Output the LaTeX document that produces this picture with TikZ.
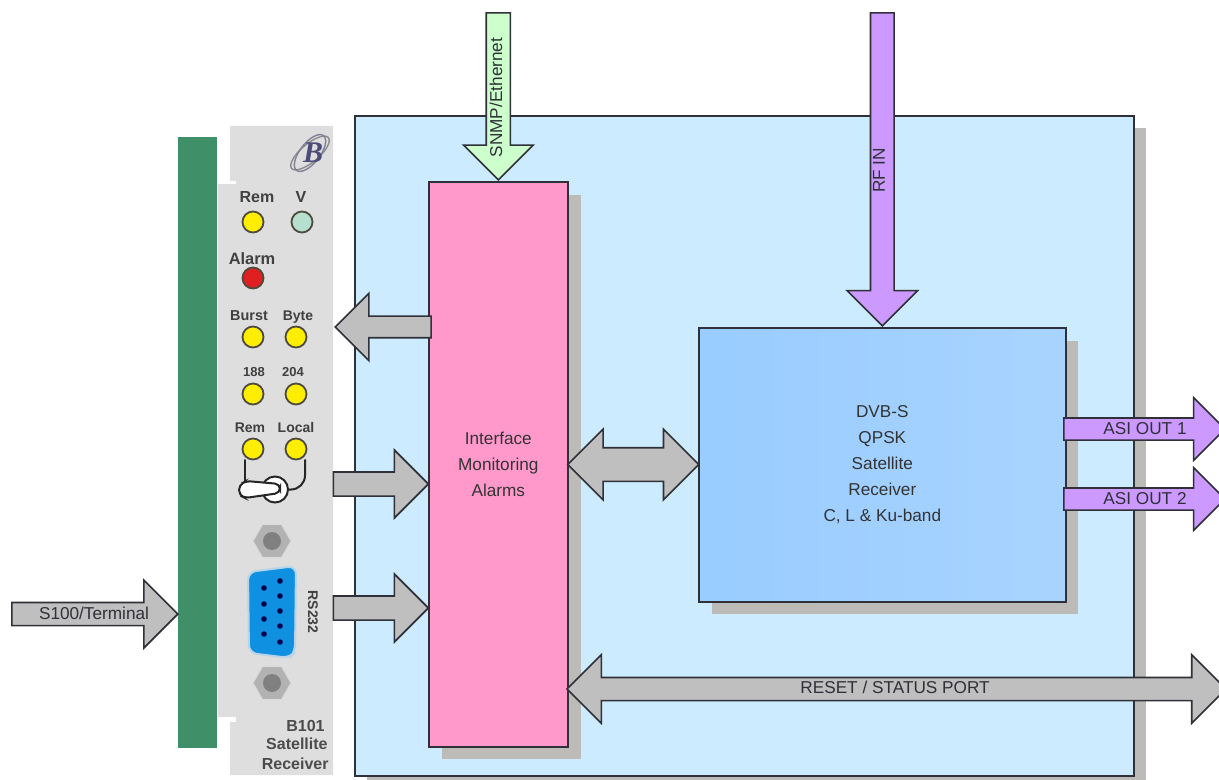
\documentclass[tikz,border=0pt]{standalone}
\usepackage{fontspec}
\setmainfont{Liberation Sans}
\newfontfamily\logofont{Liberation Serif}
\usetikzlibrary{positioning, calc, shapes.arrows, shapes.geometric}

\definecolor{lineclr}{HTML}{2F3038}
\definecolor{shadowclr}{HTML}{BDBBB8}
\definecolor{boxclr}{HTML}{CCEBFF}
\definecolor{pinkclr}{HTML}{FF99CC}
\definecolor{rxclr}{HTML}{99CCFF}
\definecolor{panelclr}{HTML}{DEDEDE}
\definecolor{barclr}{HTML}{3F8F68}
\definecolor{purpleclr}{HTML}{CC99FF}
\definecolor{greenclr}{HTML}{CCFFCC}
\definecolor{greyclr}{HTML}{BFBFBF}
\definecolor{ledyellow}{HTML}{FFEE00}
\definecolor{ledred}{HTML}{E02020}
\definecolor{ledmint}{HTML}{B5E0D0}
\definecolor{dbclr}{HTML}{1090E0}
\definecolor{dbedge}{HTML}{B8D4E8}

\tikzset{
  block/.style={draw=lineclr, line width=0.8pt, inner sep=0pt, text=black!80, font=\fontsize{8.6}{13}\selectfont, align=center},
  shade/.style={fill=shadowclr, draw=none},
  % shaft width and head width are given in units of the picture
  blockarrow/.style 2 args={single arrow, draw=lineclr, line width=0.8pt, text height=0pt, text depth=0pt, inner xsep=0pt, inner ysep=#1*0.25pt, single arrow head extend=(#2-#1)*0.25pt, single arrow head indent=0pt},
  downarrow/.style 2 args={single arrow, shape border rotate=270, draw=lineclr, line width=0.8pt, text height=0pt, text depth=0pt, inner ysep=0pt, inner xsep=#1*0.25pt, single arrow head extend=(#2-#1)*0.25pt, single arrow head indent=0pt},
  twoarrow/.style 2 args={double arrow, draw=lineclr, line width=0.8pt, text height=0pt, text depth=0pt, inner xsep=0pt, inner ysep=#1*0.25pt, double arrow head extend=(#2-#1)*0.25pt, double arrow head indent=0pt, fill=greyclr},
  arrowtext/.style={font=\fontsize{8.6}{9}\selectfont, text=lineclr, inner sep=0pt},
  led/.style={circle, draw=black!80!yellow, line width=0.9pt, minimum size=10.5pt, inner sep=0pt},
  ledtext/.style={font=\fontsize{#1}{8}\selectfont\bfseries, text=black!75, inner sep=0pt, anchor=base},
  panelnote/.style={font=\fontsize{8}{10}\selectfont\bfseries, text=black!70, inner sep=0pt, anchor=base east},
  nut/.style={regular polygon, regular polygon sides=6, minimum size=19pt, inner sep=0pt, fill=black!30, draw=black!15, line width=0.5pt},
  nutcore/.style={circle, minimum size=9pt, inner sep=0pt, fill=black!50},
  pin/.style={circle, minimum size=2.8pt, inner sep=0pt, fill=blue!30!black},
  wire/.style={black!85, line width=1pt, line cap=round}
}

\begin{document}
\begin{tikzpicture}[x=0.5pt, y=-0.5pt]
  \useasboundingbox (0,0) rectangle (1219,780);
  \clip (0,0) rectangle (1219,780);

  % outer box
  \fill[shade] (367,128) rectangle (1146,790);
  \node[block, fill=boxclr, minimum width=389.5pt, minimum height=330pt, anchor=north west] (unit) at (354,115) {};

  % front panel
  \fill[panelclr] (230,126) -- (333,126) -- (333,775) -- (230,775) -- (230,717) -- (218,717) -- (218,184) -- (230,184) -- cycle;
  \fill[barclr] (178,137) rectangle (217,748);
  \fill[white] (217,181) rectangle (236,184);
  \fill[white] (217,717) rectangle (236,722);
  \fill[white] (217,722) rectangle (230,775);

  % logo
  \draw[black!45, line width=0.7pt, rotate around={40:(310,153)}] (310,153) ellipse (24 and 9);
  \draw[blue!20!black!50, line width=0.7pt, rotate around={52:(310,153)}] (310,153) ellipse (22 and 10);
  \node[inner sep=0pt, text=blue!25!black!70, font=\logofont\fontsize{15}{15}\selectfont\bfseries\itshape] (logo) at (313,153) {B};

  % leds
  \foreach \nm/\lx/\ly/\clr in {remtop/253/222/ledyellow, volt/302/222/ledmint, alarm/253/278/ledred, burst/253/337/ledyellow, byte/296/337/ledyellow, oneeight/253/394/ledyellow, twozero/296/394/ledyellow, remlow/253/449/ledyellow, local/296/449/ledyellow} {
    \node[led, fill=\clr] (\nm) at (\lx,\ly) {};
  }
  \node[ledtext=8] (remtoplbl) at (257,203) {Rem};
  \node[ledtext=8] (voltlbl) at (301,203) {V};
  \node[ledtext=8.2] (alarmlbl) at (252,265) {Alarm};
  \node[ledtext=7.2] (burstlbl) at (249,321) {Burst};
  \node[ledtext=7] (bytelbl) at (298,321) {Byte};
  \node[ledtext=6.5] (oneeightlbl) at (254,376) {188};
  \node[ledtext=6.5] (twozerolbl) at (293,376) {204};
  \node[ledtext=7] (remlowlbl) at (250,432) {Rem};
  \node[ledtext=7] (locallbl) at (296,432) {Local};

  % toggle switch
  \draw[wire] (245,460) -- (245,482);
  \node[circle, draw=black!85, fill=white, line width=1pt, minimum size=13pt, inner sep=0pt] (knob) at (275,489.5) {};
  \draw[wire, rounded corners=7pt] (305,460) -- (305,489.5) -- (knob.east);
  \draw[wire, fill=white, rounded corners=2.5pt] (280,484) -- (246,481) -- (239,485) -- (239,495) -- (245,498) -- (280,493) -- cycle;

  % nuts and connector
  \node[nut] (nuttop) at (272,541) {};
  \node[nutcore] (coretop) at (272,541) {};
  \node[nut] (nutlow) at (272,683) {};
  \node[nutcore] (corelow) at (272,683) {};
  \draw[fill=dbclr, draw=dbedge, line width=1pt, rounded corners=4pt] (248,572) -- (296,566) -- (295,652) -- (290,658) -- (249,653) -- cycle;
  \foreach \py in {588,604,619,634} { \node[pin] at (264,\py) {}; }
  \foreach \py in {581,596,611,626,642} { \node[pin] at (280,\py) {}; }
  \node[ledtext=7, anchor=center, rotate=-90] (rslbl) at (313,612) {RS232};
  \node[panelnote] (modela) at (325,731) {B101};
  \node[panelnote] (modelb) at (328,749) {Satellite};
  \node[panelnote] (modelc) at (329,769) {Receiver};

  % inner blocks
  \fill[shade] (442,195) rectangle (581,759);
  \fill[shade] (712,341) rectangle (1078,614);
  \node[block, fill=pinkclr, minimum width=69.5pt, minimum height=282.5pt, anchor=north west] (iface) at (428,181) {Interface\\Monitoring\\Alarms};
  \node[block, left color=rxclr, right color=rxclr!85!white, minimum width=183.5pt, minimum height=137pt, anchor=north west] (rx) at (698,327) {DVB-S\\QPSK\\Satellite\\Receiver\\C, L \& Ku-band};

  % arrows
  \node[downarrow={22.5}{68}, fill=greenclr, minimum height=83.5pt, anchor=tip] (snmp) at (iface.north) {};
  \node[arrowtext, rotate=90] (snmplbl) at (496,97.5) {SNMP/Ethernet};
  \node[downarrow={22}{69}, fill=purpleclr, minimum height=156.5pt, anchor=tip] (rfin) at (rx.north) {};
  \node[arrowtext, rotate=90] (rfinlbl) at (879,170.5) {RF IN};
  \node[blockarrow={20.5}{61}, fill=purpleclr, minimum height=80.5pt, anchor=tip] (asia) at (1226,429) {};
  \node[arrowtext] (asialbl) at (1145,428.5) {ASI OUT 1};
  \node[blockarrow={20.5}{61}, fill=purpleclr, minimum height=80.5pt, anchor=tip] (asib) at (1226,499) {};
  \node[arrowtext] (asiblbl) at (1145,498.5) {ASI OUT 2};
  \node[blockarrow={21.5}{66.5}, fill=greyclr, minimum height=83pt, anchor=tip] (termarrow) at (179,614) {};
  \node[arrowtext] (termlbl) at (94,613) {S100/Terminal};
  \node[blockarrow={20}{66}, fill=greyclr, shape border rotate=180, minimum height=48pt, anchor=tip] (alarmout) at (334,327) {};
  \node[blockarrow={22.5}{66.5}, fill=greyclr, minimum height=47.5pt, anchor=tip] (swin) at (429.5,484) {};
  \node[blockarrow={22.5}{66.5}, fill=greyclr, minimum height=47.5pt, anchor=tip] (rsin) at (429.5,608) {};
  \node[twoarrow={32}{69}, minimum height=65.5pt, anchor=center] (link) at ($(iface.east)!0.5!(rx.west)$) {};
  \node[twoarrow={21.5}{67}, minimum height=329.5pt, anchor=center] (reset) at (896.5,689) {};
  \node[arrowtext] (resetlbl) at (895,687.5) {RESET / STATUS PORT};
\end{tikzpicture}
\end{document}
